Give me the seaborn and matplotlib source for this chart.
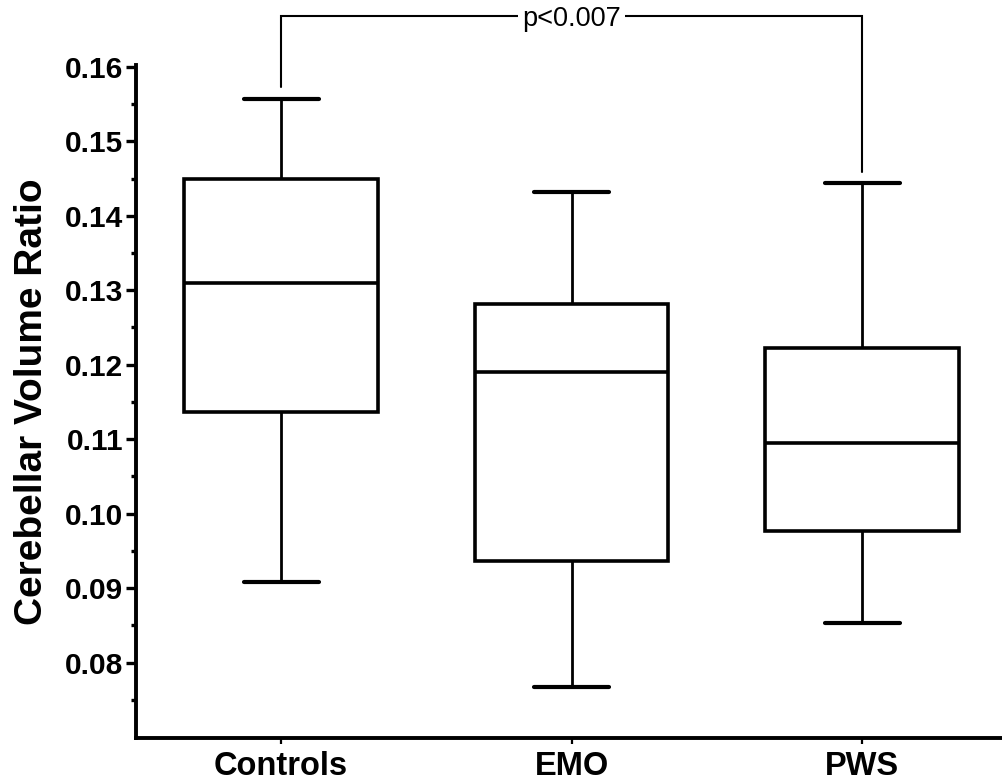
import numpy as np
import pandas as pd
import matplotlib
matplotlib.use("Agg")
import matplotlib.pyplot as plt
import seaborn as sns

# Five-number summaries: [min, Q1, median, Q3, max]
groups = ["Controls", "EMO", "PWS"]
controls_vals = [0.0909, 0.1136, 0.1310, 0.1450, 0.1557]
emo_vals = [0.0768, 0.0937, 0.1190, 0.1281, 0.1432]
pws_vals = [0.0854, 0.0977, 0.1095, 0.1223, 0.1444]
y_ticks = [0.08, 0.09, 0.10, 0.11, 0.12, 0.13, 0.14, 0.15, 0.16]
y_label = "Cerebellar Volume Ratio"
p_text = "p<0.007"

df = pd.DataFrame({
    "group": np.repeat(groups, 5),
    "value": controls_vals + emo_vals + pws_vals,
})

sns.set_theme(style="ticks")
plt.rcParams["font.family"] = ["Liberation Sans", "DejaVu Sans"]

fig = plt.figure(figsize=(10.02, 7.84), dpi=100)
ax = fig.add_axes([0.1355, 0.0587, 0.8698, 0.859])

sns.boxplot(
    data=df, x="group", y="value", order=groups, ax=ax,
    width=0.665, whis=(0, 100), color="white", linecolor="black",
    linewidth=2.6, showfliers=False, capwidths=0.258,
    whiskerprops=dict(linewidth=2.0),
    capprops=dict(linewidth=3.0),
    medianprops=dict(linewidth=2.6),
)

ax.set_xlim(-0.5, 2.5)
ax.set_ylim(0.0699, 0.1603)
ax.set_yticks(y_ticks)
ax.set_yticklabels([f"{t:.2f}" for t in y_ticks])
ax.set_yticks(np.arange(0.075, 0.16, 0.01), minor=True)

sns.despine(ax=ax)
for s in ["left", "bottom"]:
    ax.spines[s].set_linewidth(2.8)
    ax.spines[s].set_color("black")

ax.tick_params(axis="y", which="major", length=7.5, width=2.4, pad=1.5,
               labelsize=21.5, color="black", labelcolor="black")
ax.tick_params(axis="y", which="minor", length=3.8, width=2.4, color="black")
ax.tick_params(axis="x", which="major", length=4.5, width=1.6, pad=5,
               labelsize=23.5, color="black", labelcolor="black")
for lab in ax.get_xticklabels() + ax.get_yticklabels():
    lab.set_fontweight("bold")

ax.set_xlabel("")
ax.set_ylabel(y_label, fontsize=28, fontweight="bold", color="black", labelpad=11)

# significance bracket
ax.plot([0, 0, 2, 2], [0.1573, 0.1668, 0.1668, 0.1459], color="black",
        linewidth=1.5, clip_on=False, solid_joinstyle="miter")
ax.text(1, 0.16635, p_text, ha="center", va="center", fontsize=19.5,
        color="black", clip_on=False,
        bbox=dict(facecolor="white", edgecolor="none", pad=3))

fig.savefig("out.png", dpi=100, facecolor="white")
